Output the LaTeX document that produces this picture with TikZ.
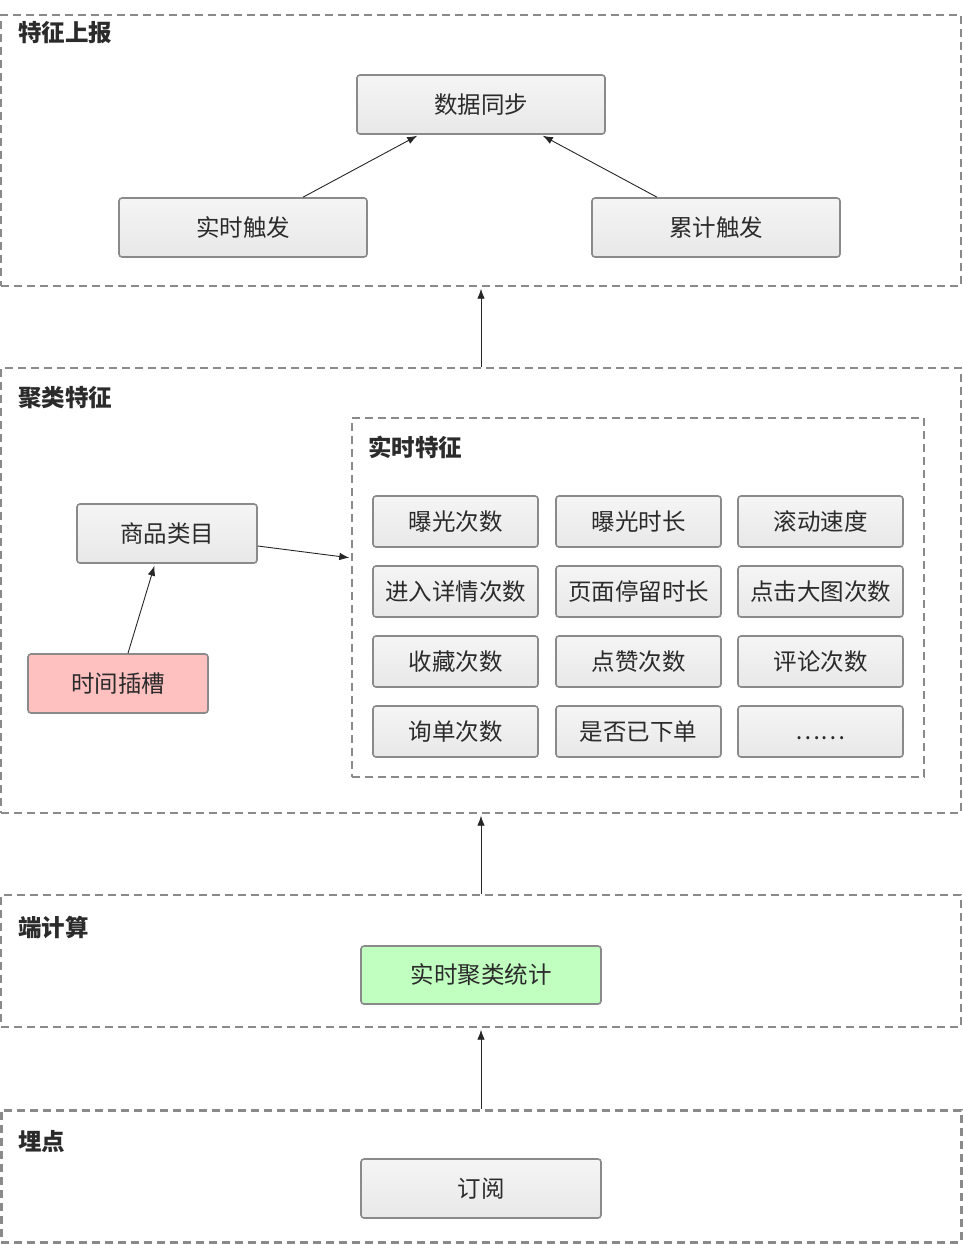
\documentclass[tikz,border=0pt]{standalone}
\usepackage{fontspec}
\setmainfont{Noto Sans CJK SC}
\usetikzlibrary{positioning,calc,arrows.meta}
\definecolor{edgegray}{HTML}{8A8A8A}
\definecolor{ink}{HTML}{2B2B2B}
\definecolor{pinkfill}{HTML}{FFC0C0}
\definecolor{greenfill}{HTML}{C0FFC0}
\tikzset{font=\fontsize{23.5pt}{27pt}\selectfont}
\tikzset{
	grp/.style={draw=edgegray, dash pattern=on 8pt off 5pt, line width=1.4pt, inner sep=0pt},
	grpthick/.style={grp, line width=3pt},
	box/.style={draw=edgegray, line width=1.6pt, rounded corners=3pt, top color=white!96!black, bottom color=white!91!black, text=ink, inner sep=0pt},
	cell/.style={box, minimum width=165pt, minimum height=51pt},
	wide/.style={box, minimum width=248pt, minimum height=59pt},
	title/.style={anchor=west, inner sep=0pt, text=ink, font=\fontsize{23.5pt}{27pt}\selectfont\bfseries},
	arr/.style={-{Latex[length=10pt,width=7.5pt]}, line width=0.9pt, draw=black!85, shorten >=2pt}
}

\begin{document}
\begin{tikzpicture}[x=1pt, y=-1pt]
	\useasboundingbox (0,0) rectangle (963,1244);

	% groups
	\node[grp, minimum width=960pt, minimum height=271pt] (report) at (481,150.5) {};
	\node[title] at (18,33) {特征上报};
	\node[grp, minimum width=960pt, minimum height=445pt] (cluster) at (481,590.5) {};
	\node[title] at (18,398) {聚类特征};
	\node[grp, minimum width=572pt, minimum height=359pt] (feat) at (638,597.5) {};
	\node[title] at (368,447) {实时特征};
	\node[grp, minimum width=960pt, minimum height=132pt] (edge) at (481,961) {};
	\node[title] at (18,927) {端计算};
	\node[grpthick, minimum width=960pt, minimum height=132pt] (track) at (481,1176) {};
	\node[title] at (18,1141) {埋点};

	% report
	\node[wide] (sync) at (481,104.5) {数据同步};
	\node[wide] (rt) at (243,227.5) {实时触发};
	\node[wide] (acc) at (716,227.5) {累计触发};

	% cluster
	\node[box, minimum width=180pt, minimum height=59pt] (cat) at (167,533.5) {商品类目};
	\node[box, minimum width=180pt, minimum height=59pt, top color=pinkfill, bottom color=pinkfill] (slot) at (118,683.5) {时间插槽};

	\node[cell] (f11) at (455.5,521.5) {曝光次数};
	\node[cell] (f12) at (638.5,521.5) {曝光时长};
	\node[cell] (f13) at (820.5,521.5) {滚动速度};
	\node[cell] (f21) at (455.5,591.5) {进入详情次数};
	\node[cell] (f22) at (638.5,591.5) {页面停留时长};
	\node[cell] (f23) at (820.5,591.5) {点击大图次数};
	\node[cell] (f31) at (455.5,661.5) {收藏次数};
	\node[cell] (f32) at (638.5,661.5) {点赞次数};
	\node[cell] (f33) at (820.5,661.5) {评论次数};
	\node[cell] (f41) at (455.5,731.5) {询单次数};
	\node[cell] (f42) at (638.5,731.5) {是否已下单};
	\node[cell] (f43) at (820.5,731.5) {};
	\node[text=ink, inner sep=0pt] (dots) at ([yshift=-7pt]f43.center) {……};

	% edge / track
	\node[box, minimum width=240pt, minimum height=58pt, top color=greenfill, bottom color=greenfill] (stat) at (481,975) {实时聚类统计};
	\node[box, minimum width=240pt, minimum height=59pt] (sub) at (481,1188.5) {订阅};

	% connectors
	\draw[arr] ([xshift=60pt]rt.north) -- ([xshift=-62pt]sync.south);
	\draw[arr] ([xshift=-59pt]acc.north) -- ([xshift=60pt]sync.south);
	\draw[arr] ([xshift=10pt]slot.north) -- ([xshift=-12pt]cat.south);
	\draw[arr] ([yshift=-12.5pt]cat.east) -- ([yshift=39.5pt]feat.west);
	\draw[arr] (cluster.north) -- (report.south);
	\draw[arr] (edge.north) -- (cluster.south);
	\draw[arr] (track.north) -- (edge.south);
\end{tikzpicture}
\end{document}
